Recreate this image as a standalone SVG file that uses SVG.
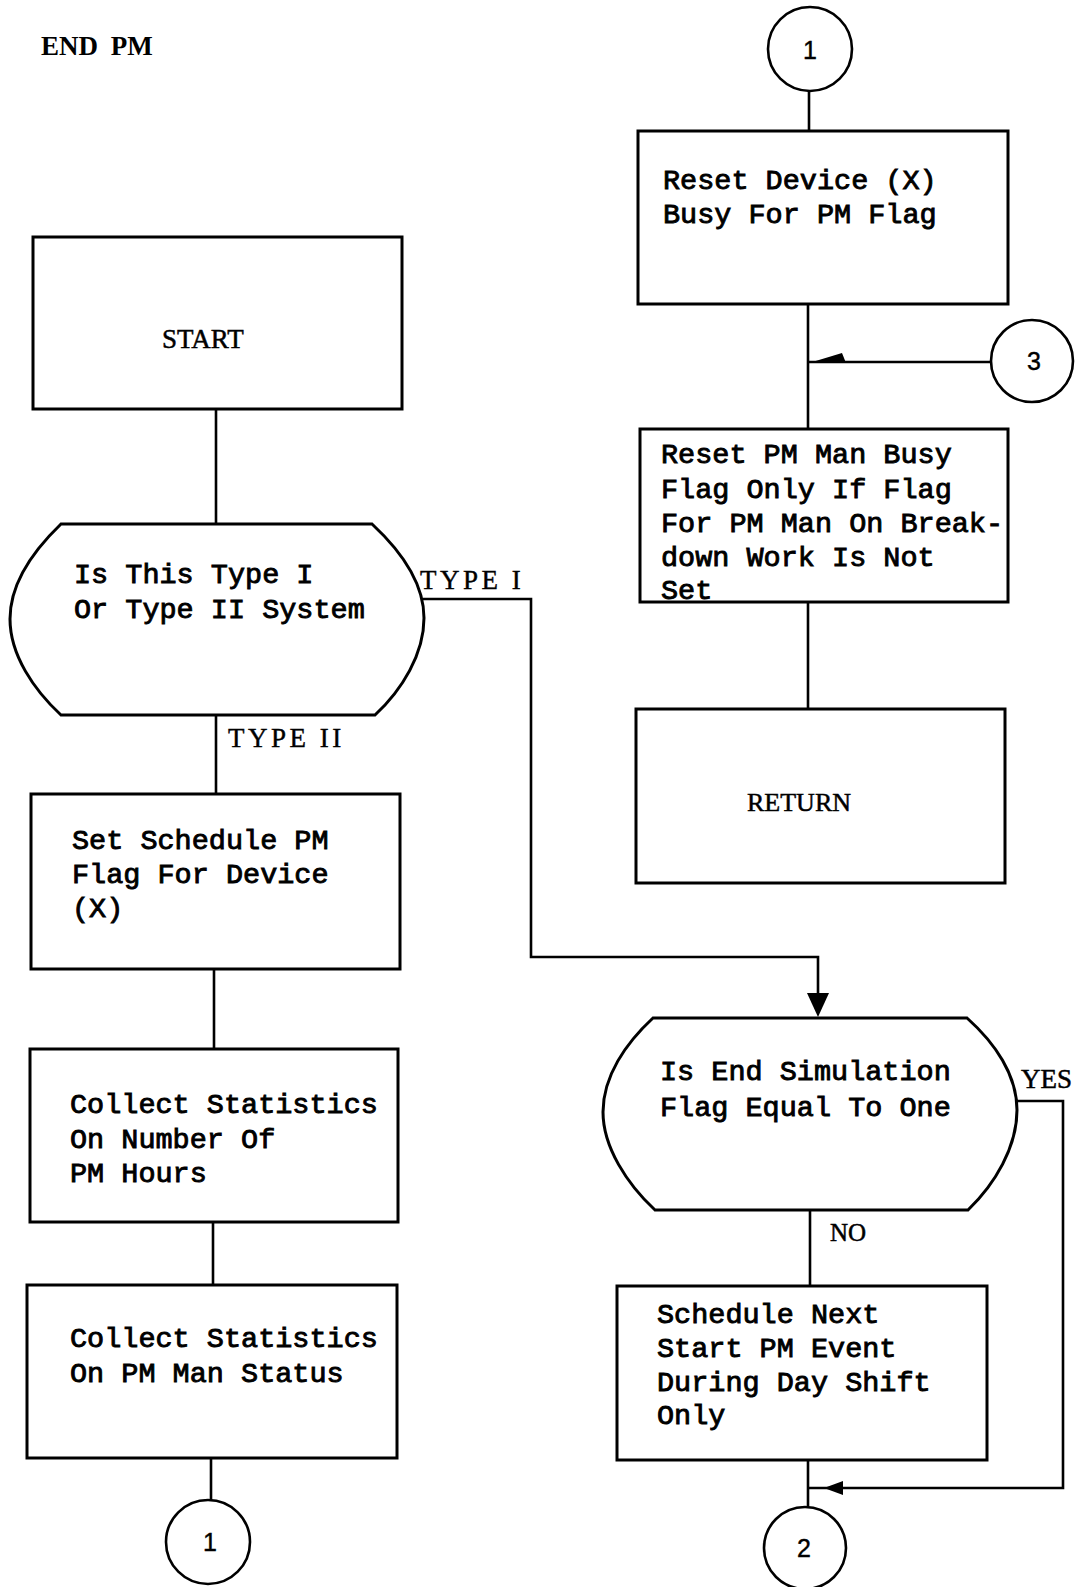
<svg xmlns="http://www.w3.org/2000/svg" width="1080" height="1587" viewBox="0 0 1080 1587">
<style>
.box{fill:#fff;stroke:#000;stroke-width:3}
.ln{fill:none;stroke:#000;stroke-width:2.6}
.mono{font-family:"Liberation Mono","Courier New",monospace;font-size:28.5px;fill:#000;stroke:#000;stroke-width:0.9}
.serif{font-family:"Liberation Serif","Times New Roman",serif;font-size:27px;fill:#000;stroke:#000;stroke-width:0.5}
.lbl{font-family:"Liberation Serif","Times New Roman",serif;font-size:27px;fill:#000;stroke:#000;stroke-width:0.4;letter-spacing:3.5px}
.num{font-family:"Liberation Sans",Arial,sans-serif;font-size:25px;fill:#000;text-anchor:middle;stroke:#000;stroke-width:0.4}
.arr{fill:#000;stroke:none}
</style>
<rect width="1080" height="1587" fill="#fff"/>
<text x="41" y="55" class="serif" style="font-weight:bold;stroke-width:0" word-spacing="6">END PM</text>

<g id="connectors">
<path class="ln" d="M216 410 V524"/>
<path class="ln" d="M216 715 V794"/>
<path class="ln" d="M214 969 V1049"/>
<path class="ln" d="M213 1222 V1285"/>
<path class="ln" d="M211 1458 V1500"/>
<path class="ln" d="M809 91 V131"/>
<path class="ln" d="M808 304 V429"/>
<path class="ln" d="M991 362 H808"/>
<polygon class="arr" points="809,363 842,353 846,363"/>
<path class="ln" d="M808 602 V709"/>
<path class="ln" d="M423 599 H531 V957 H818 V1000"/>
<polygon class="arr" points="807,993 829,993 818,1017"/>
<path class="ln" d="M810 1210 V1286"/>
<path class="ln" d="M1016 1101 H1063 V1488 H808"/>
<polygon class="arr" points="824,1488 843,1481 843,1495"/>
<path class="ln" d="M808 1460 V1507"/>
<text x="420" y="589" class="lbl">TYPE I</text>
<text x="228" y="747" class="lbl">TYPE II</text>
<text x="1021" y="1088" class="serif">YES</text>
<text x="830" y="1241" class="serif" style="font-size:25px">NO</text>
</g>

<g id="start">
<rect class="box" x="33" y="237" width="369" height="172"/>
<text x="162" y="348" class="serif">START</text>
</g>

<g id="decision-type">
<path class="box" d="M61 524 H372 C400 550 424 582 424 618 C424 654 402 690 375 715 H61 C34 690 10 655 10 619 C10 583 34 550 61 524 Z"/>
<text x="74" y="583" class="mono">Is This Type I</text>
<text x="74" y="618" class="mono">Or Type II System</text>
</g>

<g id="set-schedule">
<rect class="box" x="31" y="794" width="369" height="175"/>
<text x="72" y="849" class="mono">Set Schedule PM</text>
<text x="72" y="883" class="mono">Flag For Device</text>
<text x="72" y="917" class="mono">(X)</text>
</g>

<g id="collect-hours">
<rect class="box" x="30" y="1049" width="368" height="173"/>
<text x="70" y="1113" class="mono">Collect Statistics</text>
<text x="70" y="1148" class="mono">On Number Of</text>
<text x="70" y="1182" class="mono">PM Hours</text>
</g>

<g id="collect-status">
<rect class="box" x="27" y="1285" width="370" height="173"/>
<text x="70" y="1347" class="mono">Collect Statistics</text>
<text x="70" y="1382" class="mono">On PM Man Status</text>
</g>

<g id="conn-1-out">
<circle cx="208" cy="1542" r="42" fill="#fff" stroke="#000" stroke-width="2.6"/>
<text x="210" y="1551" class="num">1</text>
</g>

<g id="conn-1-in">
<circle cx="810" cy="49" r="42" fill="#fff" stroke="#000" stroke-width="2.6"/>
<text x="810" y="59" class="num">1</text>
</g>

<g id="reset-device">
<rect class="box" x="638" y="131" width="370" height="173"/>
<text x="663" y="189" class="mono">Reset Device (X)</text>
<text x="663" y="223" class="mono">Busy For PM Flag</text>
</g>

<g id="conn-3">
<circle cx="1032" cy="361" r="41" fill="#fff" stroke="#000" stroke-width="2.6"/>
<text x="1034" y="370" class="num">3</text>
</g>

<g id="reset-pm-man">
<rect class="box" x="640" y="429" width="368" height="173"/>
<text x="661" y="463" class="mono">Reset PM Man Busy</text>
<text x="661" y="498" class="mono">Flag Only If Flag</text>
<text x="661" y="532" class="mono">For PM Man On Break-</text>
<text x="661" y="566" class="mono">down Work Is Not</text>
<text x="661" y="599" class="mono">Set</text>
</g>

<g id="return">
<rect class="box" x="636" y="709" width="369" height="174"/>
<text x="747" y="811" class="serif" style="font-size:26px">RETURN</text>
</g>

<g id="decision-end">
<path class="box" d="M653 1018 H967 C995 1043 1017 1075 1017 1110 C1017 1147 995 1184 968 1210 H655 C627 1184 603 1147 603 1112 C603 1076 626 1043 653 1018 Z"/>
<text x="660" y="1080" class="mono">Is End Simulation</text>
<text x="660" y="1116" class="mono">Flag Equal To One</text>
</g>

<g id="schedule-next">
<rect class="box" x="617" y="1286" width="370" height="174"/>
<text x="657" y="1323" class="mono">Schedule Next</text>
<text x="657" y="1357" class="mono">Start PM Event</text>
<text x="657" y="1391" class="mono">During Day Shift</text>
<text x="657" y="1424" class="mono">Only</text>
</g>

<g id="conn-2">
<circle cx="805" cy="1548" r="41" fill="#fff" stroke="#000" stroke-width="2.6"/>
<text x="804" y="1557" class="num">2</text>
</g>
</svg>
